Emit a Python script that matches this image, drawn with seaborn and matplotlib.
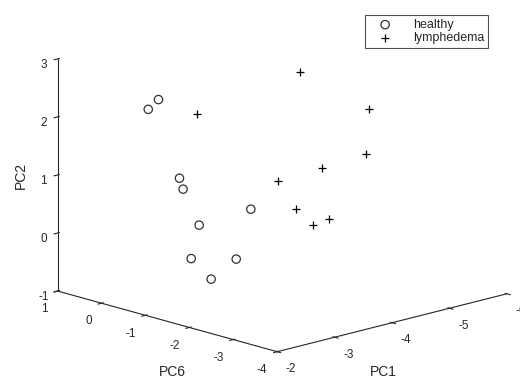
import numpy as np
import matplotlib
matplotlib.use("Agg")
import matplotlib.pyplot as plt
import seaborn as sns

# principal component scores
healthy_pc1 = [-2.5, -2.8, -2.6, -3.0, -2.4, -3.3, -2.2, -2.9, -2.7]
healthy_pc6 = [-0.41, -0.25, -0.99, -0.55, -1.70, -1.70, -1.78, -1.89, -1.58]
healthy_pc2 = [2.30, 2.36, 1.21, 0.83, 0.60, 0.65, 0.09, -0.07, -0.43]

lymph_pc1 = [-4.2, -3.6, -5.2, -4.8, -4.5, -3.9, -4.0, -4.6, -4.3]
lymph_pc6 = [-1.65, -0.08, -1.91, -2.35, -1.74, -1.53, -1.81, -1.77, -1.80]
lymph_pc2 = [2.78, 1.88, 1.94, 1.36, 1.06, 0.95, 0.51, 0.17, 0.15]

pc6_ticks = [-4, -3, -2, -1, 0, 1]
pc1_ticks = [-6, -5, -4, -3, -2]
pc2_ticks = [-1, 0, 1, 2, 3]

sns.set_style("white")
plt.rcParams['font.family'] = ['Liberation Sans', 'DejaVu Sans']
plt.rcParams['axes.unicode_minus'] = False
txt = '#262626'

fig = plt.figure(figsize=(5.2, 3.79), dpi=100)
ax = fig.add_subplot(111, projection='3d', proj_type='ortho')
ax.set_position([0.033, 0.0213, 1.0, 1.0])

ax.scatter(healthy_pc6, healthy_pc1, healthy_pc2, marker='o', s=36,
           facecolors='none', edgecolors='#333333', linewidths=0.9,
           depthshade=False, label='healthy')
ax.scatter(lymph_pc6, lymph_pc1, lymph_pc2, marker='+', s=38,
           c='black', linewidths=0.9, depthshade=False, label='lymphedema')

ax.set_xlim(-4, 1)
ax.set_ylim(-6, -2)
ax.set_zlim(-1, 3)
ax.set_xticks(pc6_ticks)
ax.set_yticks(pc1_ticks)
ax.set_zticks(pc2_ticks)
ax.view_init(elev=15.3, azim=136.3)
ax.set_box_aspect((4, 4, 3.03), zoom=1.306)

ax.zaxis.set_ticks_position('upper')
ax.tick_params(labelsize=8.5, colors=txt)
ax.xaxis.set_tick_params(pad=-2)
ax.yaxis.set_tick_params(pad=-2.5)
ax.zaxis.set_tick_params(pad=-3.5)
for t in ax.xaxis.get_major_ticks():
    t.label1.set_horizontalalignment('right')
for t in ax.yaxis.get_major_ticks():
    t.label1.set_horizontalalignment('left')
ax.grid(False)
for axis in (ax.xaxis, ax.yaxis, ax.zaxis):
    axis.set_pane_color((1, 1, 1, 0))
    axis.pane.set_edgecolor((1, 1, 1, 0))
    axis.line.set_color(txt)
    axis.line.set_linewidth(0.8)

# axis titles placed like the original
fig.text(172 / 520, 1 - 372 / 379, 'PC6', fontsize=10, color=txt,
         ha='center', va='center')
fig.text(383 / 520, 1 - 372 / 379, 'PC1', fontsize=10, color=txt,
         ha='center', va='center')
fig.text(21 / 520, 1 - 175 / 379, 'PC2', fontsize=10, color=txt,
         ha='center', va='center', rotation=90)

leg = fig.legend(loc='upper right', bbox_to_anchor=(0.938, 0.96), fontsize=9,
                 frameon=True, fancybox=False, edgecolor=txt,
                 handlelength=2.6, handletextpad=0.9, borderpad=0.3,
                 labelspacing=0.1, borderaxespad=0)
leg.get_frame().set_linewidth(0.8)

fig.savefig('out.png', dpi=100)
